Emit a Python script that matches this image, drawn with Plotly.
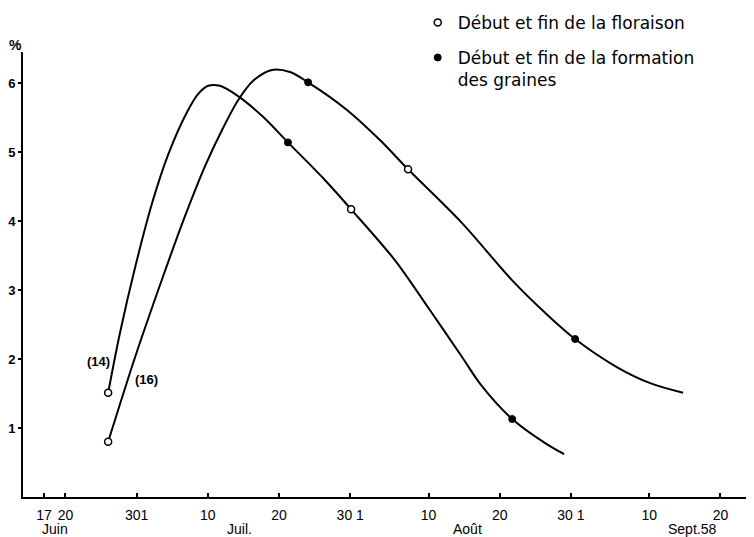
import plotly.graph_objects as go

# ---- data ----
# courbe (14)
c14_dates = ["1958-06-26 00:00", "1958-06-27 16:00", "1958-06-29 19:00", "1958-07-02 07:00",
             "1958-07-04 10:00", "1958-07-07 02:00", "1958-07-08 15:00", "1958-07-10 01:00",
             "1958-07-11 17:00", "1958-07-14 06:00", "1958-07-17 18:00", "1958-07-21 06:00",
             "1958-07-26 05:00", "1958-07-30 03:00", "1958-08-05 07:00", "1958-08-09 22:00",
             "1958-08-14 17:00", "1958-08-17 06:00", "1958-08-21 18:00", "1958-08-26 09:00",
             "1958-08-29 01:00"]
c14_values = [1.51, 2.38, 3.33, 4.30, 4.96, 5.58, 5.84, 5.96, 5.96, 5.81, 5.51,
              5.14, 4.62, 4.17, 3.43, 2.75, 2.03, 1.64, 1.13, 0.78, 0.62]

# courbe (16)
c16_dates = ["1958-06-26 00:00", "1958-06-29 19:00", "1958-07-03 14:00", "1958-07-06 19:00",
             "1958-07-09 15:00", "1958-07-12 00:00", "1958-07-14 06:00", "1958-07-16 08:00",
             "1958-07-19 00:00", "1958-07-21 13:00", "1958-07-24 02:00", "1958-07-29 13:00",
             "1958-08-03 05:00", "1958-08-07 03:00", "1958-08-14 17:00", "1958-08-21 18:00",
             "1958-08-26 09:00", "1958-08-30 14:00", "1958-09-05 12:00", "1958-09-10 03:00",
             "1958-09-14 18:00"]
c16_values = [0.80, 2.03, 3.16, 4.07, 4.80, 5.32, 5.75, 6.03, 6.19, 6.16, 6.01,
              5.61, 5.17, 4.75, 3.97, 3.14, 2.67, 2.29, 1.88, 1.65, 1.51]

# début et fin de la floraison (cercles ouverts)
flor_dates = ["1958-06-26 00:00", "1958-07-30 03:00", "1958-06-26 00:00", "1958-08-07 03:00"]
flor_values = [1.51, 4.17, 0.80, 4.75]

# début et fin de la formation des graines (points pleins)
grain_dates = ["1958-07-21 06:00", "1958-08-21 18:00", "1958-07-24 02:00", "1958-08-30 14:00"]
grain_values = [5.14, 1.13, 6.01, 2.29]

# axis ticks
x_tickvals = ["1958-06-17", "1958-06-20", "1958-06-30", "1958-07-10", "1958-07-20", "1958-07-30",
              "1958-08-10", "1958-08-20", "1958-08-30", "1958-09-10", "1958-09-20"]
x_ticktext = ["17", "20", "301", "10", "20", "30 1", "10", "20", "30 1", "10", "20"]
month_dates = ["1958-06-18 12:00", "1958-07-14 12:00", "1958-08-15 10:00", "1958-09-16 00:00"]
month_labels = ["Juin", "Juil.", "Août", "Sept.58"]
y_tickvals = [1, 2, 3, 4, 5, 6]

curve_labels = ["(14)", "(16)"]
curve_label_dates = ["1958-06-24 14:00", "1958-07-01 08:00"]
curve_label_values = [1.96, 1.71]

fig = go.Figure()

fig.add_trace(go.Scatter(x=c14_dates, y=c14_values, mode="lines", name="(14)",
                         line=dict(color="black", width=2, shape="spline", smoothing=0.9),
                         showlegend=False))
fig.add_trace(go.Scatter(x=c16_dates, y=c16_values, mode="lines", name="(16)",
                         line=dict(color="black", width=2, shape="spline", smoothing=0.9),
                         showlegend=False))
fig.add_trace(go.Scatter(x=flor_dates, y=flor_values, mode="markers",
                         name="Début et fin de la floraison", legendgroup="a",
                         marker=dict(symbol="circle", size=7, color="white",
                                     line=dict(color="black", width=1.5))))
fig.add_trace(go.Scatter(x=grain_dates, y=grain_values, mode="markers",
                         name="Début et fin de la formation<br>des graines", legendgroup="b",
                         marker=dict(symbol="circle", size=7, color="black",
                                     line=dict(color="black", width=1))))

annotations = []
for d, lab in zip(month_dates, month_labels):
    annotations.append(dict(x=d, y=-0.072, xref="x", yref="paper", text=lab, showarrow=False,
                            xanchor="center", yanchor="middle",
                            font=dict(family="Liberation Sans", size=14, color="black")))
for d, v, lab in zip(curve_label_dates, curve_label_values, curve_labels):
    annotations.append(dict(x=d, y=v, xref="x", yref="y", text=lab, showarrow=False,
                            xanchor="center", yanchor="middle",
                            font=dict(family="Liberation Sans", size=13, color="black",
                                      weight="bold")))
annotations.append(dict(x=-0.01, y=1.016, xref="paper", yref="paper", text="%", showarrow=False,
                        xanchor="center", yanchor="middle",
                        font=dict(family="Liberation Sans", size=14, color="black", weight="bold")))

# the page body has an 8 px default margin: the figure is sized so the plot
# area lands at x 23..754, y 52..497 of the window
fig.update_layout(
    width=746, height=529,
    margin=dict(l=15, r=0, t=44, b=40, autoexpand=False),
    paper_bgcolor="white", plot_bgcolor="white",
    annotations=annotations,
    legend=dict(x=0.540, y=1.106, xanchor="left", yanchor="top",
                font=dict(family="DejaVu Sans", size=17, color="black"),
                bgcolor="rgba(0,0,0,0)", traceorder="grouped", tracegroupgap=10,
                valign="top", itemwidth=30),
    xaxis=dict(type="date", range=["1958-06-14 01:00", "1958-09-24 17:00"],
               tickmode="array", tickvals=x_tickvals, ticktext=x_ticktext,
               automargin=False,
               showline=True, linecolor="black", linewidth=2,
               ticks="inside", ticklen=4, tickcolor="black", tickwidth=1.5,
               ticklabelstandoff=4,
               tickfont=dict(family="Liberation Sans", size=14, color="black"),
               showgrid=False, zeroline=False),
    yaxis=dict(range=[0, 6.45], tickmode="array", tickvals=y_tickvals,
               automargin=False,
               showline=True, linecolor="black", linewidth=2,
               ticks="outside", ticklen=3, tickcolor="black", tickwidth=1.5,
               tickfont=dict(family="Liberation Sans", size=13, color="black", weight="bold"),
               showgrid=False, zeroline=False),
)

fig.write_html("out.html")
